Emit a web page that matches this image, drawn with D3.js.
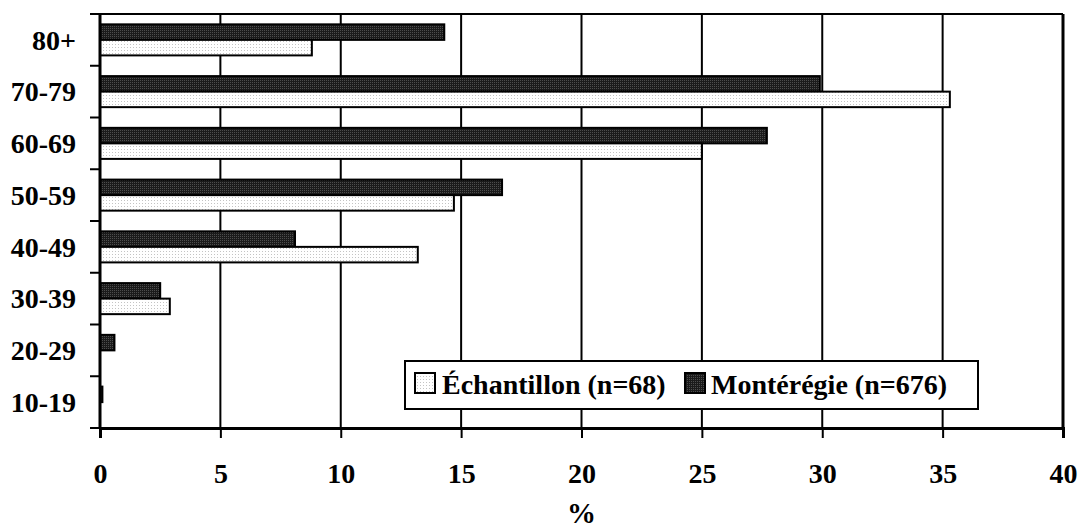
<!DOCTYPE html>
<html>
<head>
<meta charset="utf-8">
<script src="https://cdn.jsdelivr.net/npm/d3@7/dist/d3.min.js"></script>
<style>
  html, body { margin: 0; padding: 0; background: #fff; }
  svg { display: block; }
  text { font-family: "Liberation Serif", "Times New Roman", serif; font-weight: bold; fill: #000; }
</style>
</head>
<body>
<svg id="chart" width="1081" height="531"></svg>
<script>
// Age groups, top to bottom
const ageGroups = ["80+", "70-79", "60-69", "50-59", "40-49", "30-39", "20-29", "10-19"];
// Share of each age group (%)
const echantillon = [8.8, 35.3, 25.0, 14.7, 13.2, 2.9, 0, 0];
const monteregie = [14.3, 29.9, 27.7, 16.7, 8.1, 2.5, 0.6, 0.1];
const xTicks = [0, 5, 10, 15, 20, 25, 30, 35, 40];
const seriesNames = ["Échantillon (n=68)", "Montérégie (n=676)"];
const axisTitle = "%";

const W = 1081, H = 531;
const margin = { left: 100, right: 18, top: 14, bottom: 103 };
const plotW = W - margin.left - margin.right;
const plotH = H - margin.top - margin.bottom;

const svg = d3.select("#chart");

// Fill patterns for the two series
const defs = svg.append("defs");
const pDark = defs.append("pattern").attr("id", "patDark")
  .attr("patternUnits", "userSpaceOnUse").attr("width", 2).attr("height", 2);
pDark.append("rect").attr("width", 2).attr("height", 2).attr("fill", "#1b1b1b");
pDark.append("rect").attr("width", 1).attr("height", 1).attr("fill", "#4d4d4d");
const pLight = defs.append("pattern").attr("id", "patLight")
  .attr("patternUnits", "userSpaceOnUse").attr("width", 3).attr("height", 3);
pLight.append("rect").attr("width", 3).attr("height", 3).attr("fill", "#fff");
pLight.append("rect").attr("width", 1).attr("height", 1).attr("fill", "#c4c4c4");

const g = svg.append("g").attr("transform", `translate(${margin.left},${margin.top})`);

const x = d3.scaleLinear().domain([0, 40]).range([0, plotW]);
const y = d3.scaleBand().domain(ageGroups).range([0, plotH]).paddingInner(0.4).paddingOuter(0.2);
const step = y.step();

// Vertical gridlines
g.selectAll(".grid").data(xTicks.slice(1)).join("line")
  .attr("x1", d => x(d)).attr("x2", d => x(d))
  .attr("y1", 0).attr("y2", plotH)
  .attr("stroke", "#000").attr("stroke-width", 2);

// Top border
g.append("line").attr("x1", 0).attr("x2", plotW).attr("y1", 0).attr("y2", 0)
  .attr("stroke", "#000").attr("stroke-width", 2);

// Bars
const half = y.bandwidth() / 2;
const rows = ageGroups.map((a, i) => ({ a, m: monteregie[i], e: echantillon[i] }));
g.selectAll(".barM").data(rows.filter(d => d.m > 0)).join("rect")
  .attr("x", 0).attr("y", d => y(d.a))
  .attr("width", d => x(d.m)).attr("height", half)
  .attr("fill", "url(#patDark)").attr("stroke", "#000").attr("stroke-width", 2);
g.selectAll(".barE").data(rows.filter(d => d.e > 0)).join("rect")
  .attr("x", 0).attr("y", d => y(d.a) + half)
  .attr("width", d => x(d.e)).attr("height", half)
  .attr("fill", "url(#patLight)").attr("stroke", "#000").attr("stroke-width", 2);

// Left axis with ticks at band boundaries
g.append("line").attr("x1", 0).attr("x2", 0).attr("y1", 0).attr("y2", plotH)
  .attr("stroke", "#000").attr("stroke-width", 3);
g.selectAll(".ytick").data(d3.range(ageGroups.length + 1)).join("line")
  .attr("x1", -10).attr("x2", 0)
  .attr("y1", i => i * step).attr("y2", i => i * step)
  .attr("stroke", "#000").attr("stroke-width", 2);
g.selectAll(".ylab").data(ageGroups).join("text")
  .attr("x", -24).attr("y", d => y(d) + y.bandwidth() / 2)
  .attr("dy", "0.35em").attr("text-anchor", "end")
  .style("font-size", "28px").text(d => d);

// Right border
g.append("line").attr("x1", plotW).attr("x2", plotW).attr("y1", 0).attr("y2", plotH)
  .attr("stroke", "#000").attr("stroke-width", 3);

// Bottom axis
const xAxis = d3.axisBottom(x).tickValues(xTicks).tickSize(10).tickPadding(25).tickFormat(d3.format("d"));
const ax = g.append("g").attr("transform", `translate(0,${plotH})`).call(xAxis);
ax.select(".domain").attr("stroke", "#000").attr("stroke-width", 3);
ax.selectAll(".tick line").attr("stroke", "#000").attr("stroke-width", 2);
ax.selectAll(".tick text").style("font-size", "28px")
  .style("font-family", "'Liberation Serif', 'Times New Roman', serif").style("font-weight", "bold").attr("fill", "#000");

// Axis title
g.append("text").attr("x", plotW / 2).attr("y", plotH + 95)
  .attr("text-anchor", "middle").style("font-size", "29px").text(axisTitle);

// Legend
const leg = svg.append("g").attr("transform", "translate(405,361)");
leg.append("rect").attr("width", 573).attr("height", 48)
  .attr("fill", "#fff").attr("stroke", "#000").attr("stroke-width", 2);
const legItems = [
  { name: seriesNames[0], fill: "url(#patLight)", sx: 10, tx: 37 },
  { name: seriesNames[1], fill: "url(#patDark)", sx: 280, tx: 306 }
];
legItems.forEach(it => {
  leg.append("rect").attr("x", it.sx).attr("y", 12).attr("width", 20).attr("height", 20)
    .attr("fill", it.fill).attr("stroke", "#000").attr("stroke-width", 2);
  leg.append("text").attr("x", it.tx).attr("y", 33).style("font-size", "28px").text(it.name);
});
</script>
</body>
</html>
